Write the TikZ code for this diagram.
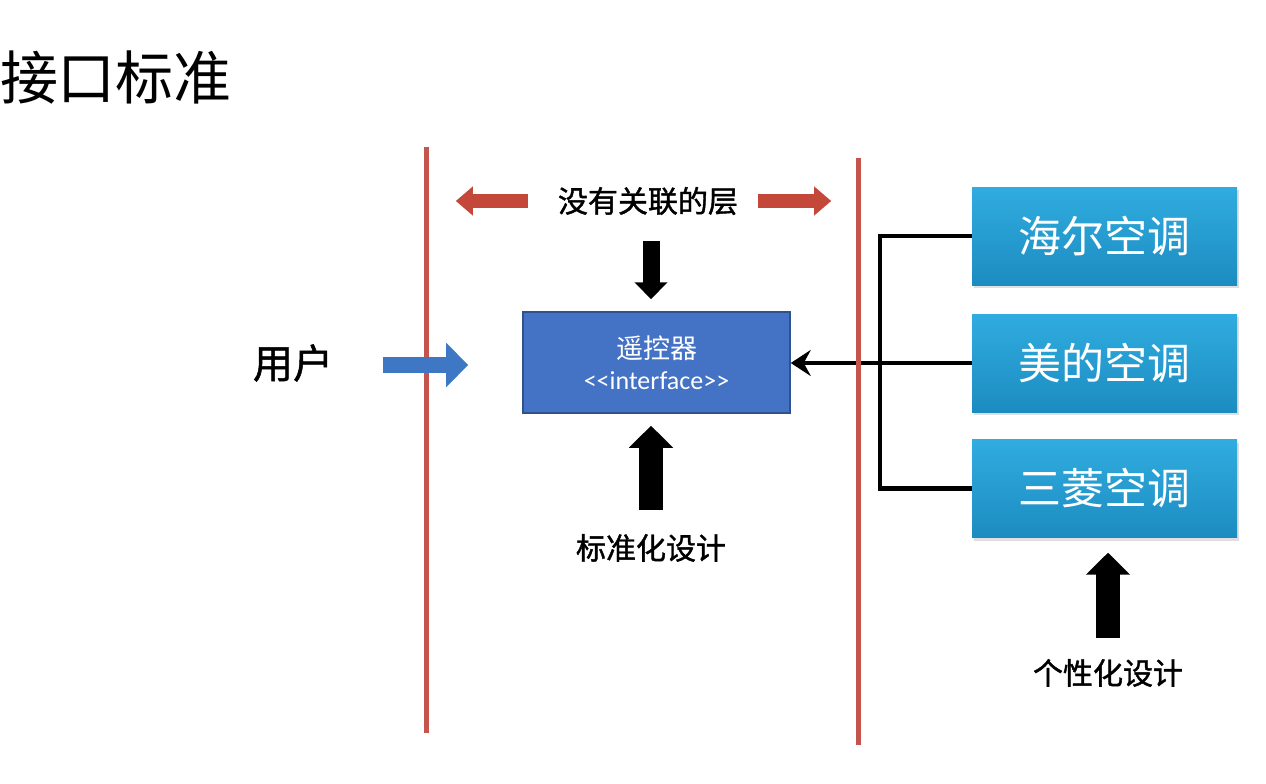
\documentclass[tikz,border=0pt]{standalone}
\usepackage{fontspec}
\newfontfamily\cjk{Noto Sans CJK SC}
\newfontfamily\cjkm[FakeBold=1.3]{Noto Sans CJK SC}
\newfontfamily\calibri{Carlito}
\usetikzlibrary{arrows.meta,calc,shadows}
\definecolor{redln}{RGB}{196,84,76}
\definecolor{redar}{RGB}{196,72,58}
\definecolor{bluear}{RGB}{62,120,196}
\definecolor{boxfill}{RGB}{68,114,196}
\definecolor{boxdraw}{RGB}{47,82,143}
\definecolor{cyantop}{RGB}{48,172,224}
\definecolor{cyanbot}{RGB}{28,140,192}
\tikzset{
  titletext/.style={font=\cjk\fontsize{58}{64}\selectfont, inner sep=0pt},
  lbl/.style={font=\cjkm\fontsize{30}{36}\selectfont, inner sep=0pt},
  usertext/.style={font=\cjkm\fontsize{40}{46}\selectfont, inner sep=0pt},
  redline/.style={draw=redln, line width=5pt},
  redarrow/.style={draw=redar, line width=14pt, -{Triangle[length=17pt,width=28pt]}},
  bluearrow/.style={draw=bluear, line width=16pt, -{Triangle[length=22pt,width=43pt]}},
  downarrow/.style={draw=black, line width=17pt, -{Triangle[length=17pt,width=32pt]}},
  uparrow/.style={draw=black, line width=24pt, -{Triangle[length=22pt,width=43pt]}},
  remotebox/.style={draw=boxdraw, line width=1.5pt, fill=boxfill, minimum width=267pt, minimum height=101pt, text=white, align=center, inner sep=0pt},
  acbox/.style={top color=cyantop, bottom color=cyanbot, draw=none, minimum width=265pt, minimum height=98pt, text=white,
    font=\cjk\fontsize{43}{48}\selectfont,
    drop shadow={opacity=0.25, shadow xshift=2pt, shadow yshift=-3pt}},
  bracket/.style={draw=black, line width=4.5pt},
}
\begin{document}
\begin{tikzpicture}[x=1pt,y=-1pt]
\useasboundingbox (0,0) rectangle (1266,784);
\fill[white] (0,0) rectangle (1266,784);

\node[titletext] (title) at (116,78) {接口标准};

% nodes
\node[lbl] (layer) at (648,201) {没有关联的层};
\node[usertext] (user) at (293,363) {用户};
\node[remotebox] (remote) at (656.5,362.5) {{\cjk\fontsize{27}{30}\selectfont 遥控器}\\[10pt]{\calibri\fontsize{26}{30}\selectfont <\kern0pt<interface>\kern0pt>}};
\node[lbl] (std) at (651,548) {标准化设计};
\node[acbox] (haier) at (1104.5,236) {海尔空调};
\node[acbox] (midea) at (1104.5,363) {美的空调};
\node[acbox] (mitsu) at (1104.5,488.5) {三菱空调};
\node[lbl] (pers) at (1108,673) {个性化设计};

% arrow columns
\coordinate (colA) at (651,0);
\coordinate (colB) at (1108,0);

% connectors
\draw[bracket] (haier.west) -- ++(-92,0) |- (mitsu.west);
\draw[bracket, -{Stealth[length=20pt,width=26pt,inset=7pt]}] (midea.west) -- (remote.east |- midea.west);

% red vertical layer lines
\coordinate (l1t) at (426,147); \coordinate (l1b) at (426,733);
\coordinate (l2t) at (858,158); \coordinate (l2b) at (858,745);
\draw[redline] (l1t) -- (l1b);
\draw[redline] (l2t) -- (l2b);

% red double arrows
\draw[redarrow] ($(layer.west)+(-30,0)$) -- ($(layer.west)+(-102,0)$);
\draw[redarrow] ($(layer.east)+(20,0)$) -- ($(layer.east)+(93,0)$);

% user arrow
\draw[bluearrow] ($(user.east)+(50,2)$) -- ($(user.east)+(135,2)$);

% down arrow into remote
\draw[downarrow, shorten >=12pt] ($(colA |- layer.south)+(0,26)$) -- (colA |- remote.north);

% up arrows
\draw[uparrow, shorten >=12pt] ($(std.north)+(0,-24)$) -- (colA |- remote.south);
\draw[uparrow, shorten >=15pt] ($(pers.north)+(0,-21)$) -- (colB |- mitsu.south);
\end{tikzpicture}
\end{document}
